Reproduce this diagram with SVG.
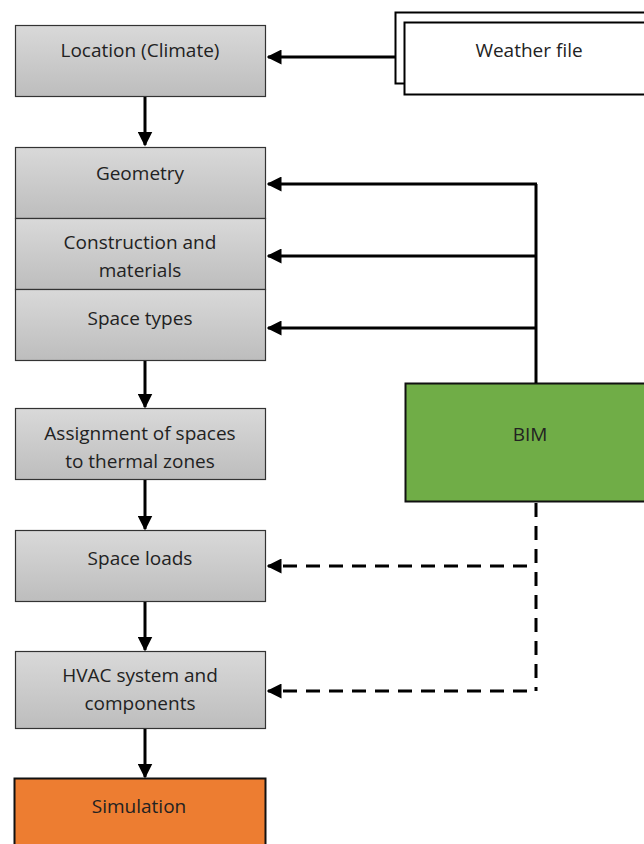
<svg xmlns="http://www.w3.org/2000/svg" width="644" height="844" viewBox="0 0 644 844">
<defs>
<linearGradient id="grey" x1="0" y1="0" x2="0" y2="1">
<stop offset="0" stop-color="#d9d9d9"/>
<stop offset="1" stop-color="#bdbdbd"/>
</linearGradient>
<marker id="ah" viewBox="0 0 10 10" refX="9" refY="5" markerWidth="5" markerHeight="5" orient="auto" markerUnits="strokeWidth">
<path d="M0,0 L10,5 L0,10 z" fill="#000"/>
</marker>
</defs>
<style>
.box{fill:url(#grey);stroke:#333;stroke-width:1.2}
.t{font-family:"Open Sans","Liberation Sans",sans-serif;font-size:19px;fill:#222;text-anchor:middle}
.c{fill:none;stroke:#000;stroke-width:3}
.d{stroke-dasharray:14 9}
</style>
<g id="weather">
<rect x="395.5" y="12.5" width="260" height="71" fill="#fff" stroke="#000" stroke-width="2"/>
<rect x="404.5" y="22.5" width="260" height="72" fill="#fff" stroke="#000" stroke-width="2"/>
<text class="t" x="529" y="57">Weather file</text>
</g>
<g id="location">
<rect class="box" x="15.5" y="25.5" width="250" height="71"/>
<text class="t" x="140" y="57">Location (Climate)</text>
</g>
<g id="geometry">
<rect class="box" x="15.5" y="147.5" width="250" height="71"/>
<text class="t" x="140" y="180">Geometry</text>
</g>
<g id="construction">
<rect class="box" x="15.5" y="218.5" width="250" height="71"/>
<text class="t" x="140" y="249">Construction and</text>
<text class="t" x="140" y="277">materials</text>
</g>
<g id="spacetypes">
<rect class="box" x="15.5" y="289.5" width="250" height="71"/>
<text class="t" x="140" y="325">Space types</text>
</g>
<g id="bim">
<rect x="405.5" y="383.5" width="250" height="118" fill="#70ad47" stroke="#111" stroke-width="2"/>
<text class="t" x="530" y="441">BIM</text>
</g>
<g id="assignment">
<rect class="box" x="15.5" y="408.5" width="250" height="71"/>
<text class="t" x="140" y="440">Assignment of spaces</text>
<text class="t" x="140" y="468">to thermal zones</text>
</g>
<g id="spaceloads">
<rect class="box" x="15.5" y="530.5" width="250" height="71"/>
<text class="t" x="140" y="565">Space loads</text>
</g>
<g id="hvac">
<rect class="box" x="15.5" y="651.5" width="250" height="77"/>
<text class="t" x="140" y="682">HVAC system and</text>
<text class="t" x="140" y="710">components</text>
</g>
<g id="simulation">
<rect x="14.5" y="778.5" width="251" height="80" fill="#ed7d31" stroke="#111" stroke-width="2"/>
<text class="t" x="139" y="813">Simulation</text>
</g>
<g id="connectors">
<line class="c" x1="395" y1="57" x2="268" y2="57" marker-end="url(#ah)"/>
<line class="c" x1="145" y1="97" x2="145" y2="145" marker-end="url(#ah)"/>
<line class="c" x1="536" y1="383" x2="536" y2="184"/>
<line class="c" x1="537" y1="184" x2="268" y2="184" marker-end="url(#ah)"/>
<line class="c" x1="537" y1="256" x2="268" y2="256" marker-end="url(#ah)"/>
<line class="c" x1="537" y1="328" x2="268" y2="328" marker-end="url(#ah)"/>
<line class="c" x1="145" y1="361" x2="145" y2="407" marker-end="url(#ah)"/>
<line class="c" x1="145" y1="480" x2="145" y2="529" marker-end="url(#ah)"/>
<line class="c" x1="145" y1="602" x2="145" y2="650" marker-end="url(#ah)"/>
<line class="c" x1="145" y1="729" x2="145" y2="777" marker-end="url(#ah)"/>
<path class="c d" d="M536,503 L536,691"/>
<line class="c d" x1="527" y1="566" x2="268" y2="566" marker-end="url(#ah)"/>
<line class="c d" x1="527" y1="691" x2="268" y2="691" marker-end="url(#ah)"/>
</g>
</svg>
